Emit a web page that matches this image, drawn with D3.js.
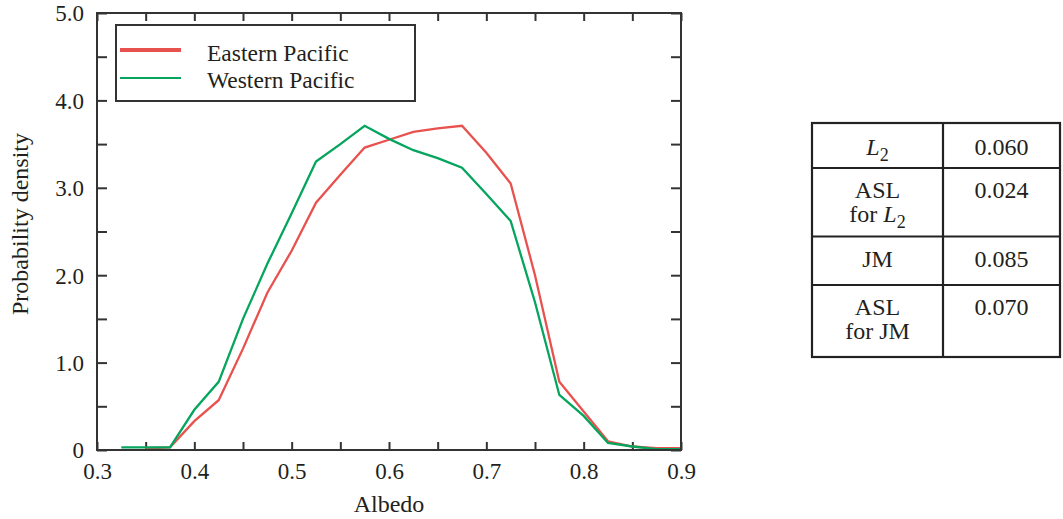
<!DOCTYPE html>
<html>
<head>
<meta charset="utf-8">
<script src="https://cdn.jsdelivr.net/npm/d3@7"></script>
<style>
  html, body { margin: 0; padding: 0; background: #fff; }
  svg { display: block; }
  svg text { font-family: "Liberation Serif", "Times New Roman", Times, serif; fill: #231f20; }
</style>
</head>
<body>
<svg id="chart" width="1063" height="519"></svg>
<script>
// Albedo grid (bin centres) and the two estimated densities
const albedo = [0.325, 0.35, 0.375, 0.40, 0.425, 0.45, 0.475, 0.50, 0.525, 0.55,
                0.575, 0.60, 0.625, 0.65, 0.675, 0.70, 0.725, 0.75, 0.775, 0.80,
                0.825, 0.85, 0.875, 0.90];
const easternPacific = [null, 0.02, 0.03, 0.33, 0.57, 1.16, 1.80, 2.28, 2.83, 3.15,
                        3.46, 3.55, 3.64, 3.68, 3.71, 3.40, 3.05, 2.00, 0.78, 0.44,
                        0.10, 0.04, 0.02, 0.02];
const westernPacific = [0.03, 0.03, 0.03, 0.46, 0.78, 1.50, 2.13, 2.71, 3.30, 3.50,
                        3.71, 3.56, 3.43, 3.34, 3.23, 2.93, 2.62, 1.69, 0.63, 0.39,
                        0.08, 0.04, 0.01, 0.01];
const seriesNames = ["Eastern Pacific", "Western Pacific"];

// Axis ticks
const xTicks = [0.3, 0.4, 0.5, 0.6, 0.7, 0.8, 0.9];
const xTickLabels = ["0.3", "0.4", "0.5", "0.6", "0.7", "0.8", "0.9"];
const xMinorTicks = [0.35, 0.45, 0.55, 0.65, 0.75, 0.85];
const yTicks = [0, 1, 2, 3, 4, 5];
const yTickLabels = ["0", "1.0", "2.0", "3.0", "4.0", "5.0"];
const yMinorTicks = [0.5, 1.5, 2.5, 3.5, 4.5];

// Statistics table
const statNames = [["L2"], ["ASL", "for L2"], ["JM"], ["ASL", "for JM"]];
const statValues = ["0.060", "0.024", "0.085", "0.070"];

const colors = { east: "#e8524e", west: "#05a55e", frame: "#333333" };

const svg = d3.select("#chart");
const plot = { left: 97, right: 681, top: 13, bottom: 450 };

const x = d3.scaleLinear().domain([0.3, 0.9]).range([plot.left, plot.right]);
const y = d3.scaleLinear().domain([0, 5]).range([plot.bottom, plot.top]);

// Ticks point inward on all four sides
function tickAxis(axisFn, scale, ticks, len, transform) {
  const g = svg.append("g").attr("transform", transform)
    .call(axisFn(scale).tickValues(ticks).tickSize(len).tickFormat(""));
  g.select(".domain").remove();
  g.selectAll(".tick line").attr("stroke", colors.frame).attr("stroke-width", 2);
  return g;
}
const xAll = xTicks.concat(xMinorTicks);
const yAll = yTicks.concat(yMinorTicks);
tickAxis(d3.axisTop, x, xAll, 8, `translate(0,${plot.bottom})`);
tickAxis(d3.axisBottom, x, xAll, 8, `translate(0,${plot.top})`);
tickAxis(d3.axisRight, y, yAll, 10, `translate(${plot.left},0)`);
tickAxis(d3.axisLeft, y, yAll, 10, `translate(${plot.right},0)`);

// Tick labels
const xLab = svg.append("g").attr("transform", `translate(0,${plot.bottom})`)
  .call(d3.axisBottom(x).tickValues(xTicks).tickSize(0).tickPadding(0)
    .tickFormat((d, i) => xTickLabels[i]));
xLab.select(".domain").remove();
xLab.attr("font-family", null).attr("font-size", null);
xLab.selectAll("text").attr("dy", null).attr("y", 29).style("font-size", "23px");

const yLab = svg.append("g").attr("transform", `translate(${plot.left},0)`)
  .call(d3.axisLeft(y).tickValues(yTicks).tickSize(0).tickPadding(0)
    .tickFormat((d, i) => yTickLabels[i]));
yLab.select(".domain").remove();
yLab.attr("font-family", null).attr("font-size", null);
yLab.selectAll("text").attr("x", -13).attr("dy", "0.34em").style("font-size", "23px");

// Axis titles
svg.append("text").attr("x", (plot.left + plot.right) / 2).attr("y", 512)
  .attr("text-anchor", "middle").style("font-size", "24px").text("Albedo");
svg.append("text")
  .attr("transform", "translate(28,224) rotate(-90)")
  .attr("text-anchor", "middle").style("font-size", "24px").text("Probability density");

// Density curves
const line = d3.line()
  .defined(d => d[1] !== null)
  .x(d => x(d[0])).y(d => y(d[1]));
const eastPts = albedo.map((a, i) => [a, easternPacific[i]]);
const westPts = albedo.map((a, i) => [a, westernPacific[i]]);

svg.append("path").datum(eastPts).attr("d", line)
  .attr("fill", "none").attr("stroke", colors.east).attr("stroke-width", 2.3)
  .attr("stroke-linejoin", "miter");
svg.append("path").datum(westPts).attr("d", line)
  .attr("fill", "none").attr("stroke", colors.west).attr("stroke-width", 2.3)
  .attr("stroke-linejoin", "miter");

// Plot frame
svg.append("rect").attr("x", plot.left).attr("y", plot.top)
  .attr("width", plot.right - plot.left).attr("height", plot.bottom - plot.top)
  .attr("fill", "none").attr("stroke", colors.frame).attr("stroke-width", 2);

// Legend
const legend = svg.append("g");
legend.append("rect").attr("x", 116).attr("y", 25).attr("width", 299).attr("height", 76)
  .attr("fill", "#fff").attr("stroke", colors.frame).attr("stroke-width", 2);
[[colors.east, 4, 50, 61], [colors.west, 2, 78, 88]].forEach((s, i) => {
  legend.append("line").attr("x1", 120).attr("x2", 181).attr("y1", s[2]).attr("y2", s[2])
    .attr("stroke", s[0]).attr("stroke-width", s[1]);
  legend.append("text").attr("x", 207).attr("y", s[3])
    .style("font-size", "23.5px").text(seriesNames[i]);
});

// Statistics table
const tbl = svg.append("g");
const tx = [812, 943, 1060];
const ty = [123, 168, 236.5, 285, 357];
tbl.append("rect").attr("x", tx[0]).attr("y", ty[0])
  .attr("width", tx[2] - tx[0]).attr("height", ty[4] - ty[0])
  .attr("fill", "none").attr("stroke", "#222").attr("stroke-width", 2.2);
tbl.append("line").attr("x1", tx[1]).attr("x2", tx[1]).attr("y1", ty[0]).attr("y2", ty[4])
  .attr("stroke", "#222").attr("stroke-width", 2.2);
ty.slice(1, 4).forEach(v => tbl.append("line").attr("x1", tx[0]).attr("x2", tx[2])
  .attr("y1", v).attr("y2", v).attr("stroke", "#222").attr("stroke-width", 2.2));

const c1 = (tx[0] + tx[1]) / 2, c2 = (tx[1] + tx[2]) / 2;
const firstBase = [155, 198, 267, 315];
function labelLine(txt, xc, yb) {
  const t = tbl.append("text").attr("x", xc).attr("y", yb)
    .attr("text-anchor", "middle").style("font-size", "24px");
  const m = txt.match(/^(.*?)L2$/);
  if (m) {
    if (m[1]) t.append("tspan").text(m[1]);
    t.append("tspan").style("font-style", "italic").text("L");
    t.append("tspan").attr("dy", 6).style("font-size", "18px").text("2");
  } else {
    t.text(txt);
  }
}
statNames.forEach((lines, r) => {
  lines.forEach((txt, k) => labelLine(txt, c1, firstBase[r] + k * 24));
  tbl.append("text").attr("x", c2).attr("y", firstBase[r])
    .attr("text-anchor", "middle").style("font-size", "24px").text(statValues[r]);
});
</script>
</body>
</html>
